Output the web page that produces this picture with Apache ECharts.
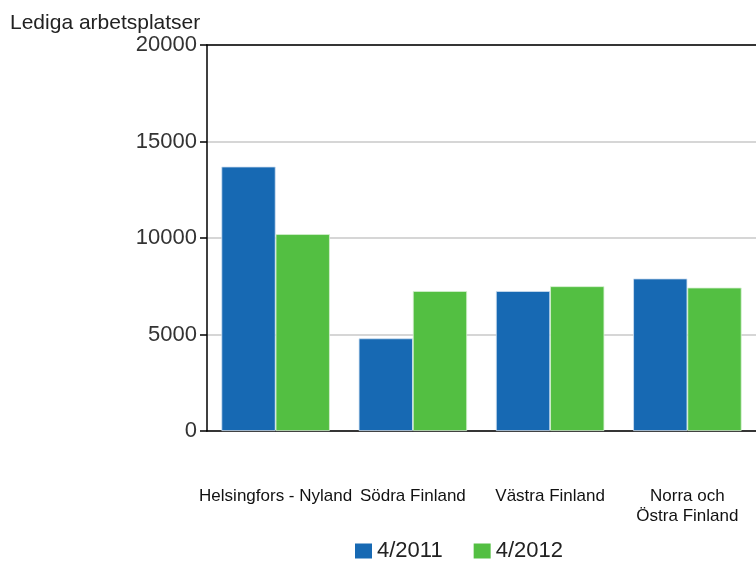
<!DOCTYPE html>
<html><head><meta charset="utf-8">
<script src="https://cdn.jsdelivr.net/npm/echarts@6/dist/echarts.min.js"></script>
<style>html,body{margin:0;padding:0;background:#fff}#c{width:756px;height:561px}</style>
</head><body><div id="c"></div>
<script>
const categories = ['Helsingfors - Nyland', 'Södra Finland', 'Västra Finland', 'Norra och\nÖstra Finland'];
const series2011 = [13700, 4800, 7250, 7900];
const series2012 = [10200, 7250, 7500, 7430];
const seriesNames = ['4/2011', '4/2012'];
const yTitle = 'Lediga arbetsplatser';

const FONT = '"Liberation Sans", Arial, sans-serif';
const chart = echarts.init(document.getElementById('c'));
chart.setOption({
  animation: false,
  textStyle: { fontFamily: FONT },
  title: { text: yTitle, left: 5, top: 8, textStyle: { fontFamily: FONT, fontSize: 21, fontWeight: 'normal', color: '#222' } },
  legend: {
    data: seriesNames, top: 535, left: 350, icon: 'rect', itemWidth: 17, itemHeight: 15, itemGap: 31,
    itemStyle: { borderWidth: 0 },
    textStyle: { fontFamily: FONT, fontSize: 22, color: '#222' }
  },
  grid: { left: 207, right: 0, top: 45, bottom: 130, containLabel: false },
  xAxis: [{
    type: 'category', data: categories, position: 'bottom',
    axisLine: { lineStyle: { color: '#000', width: 1.5 } },
    axisTick: { show: false },
    axisLabel: { interval: 0, margin: 55, fontFamily: FONT, fontSize: 17, color: '#111', lineHeight: 20 }
  }, {
    type: 'category', data: categories, position: 'top',
    axisLine: { show: true, lineStyle: { color: '#000', width: 1.5 } },
    axisTick: { show: false }, axisLabel: { show: false }
  }],
  yAxis: {
    type: 'value', min: 0, max: 20000, interval: 5000,
    axisLine: { show: true, lineStyle: { color: '#000', width: 1.5 } },
    axisTick: { show: true, length: 7, lineStyle: { color: '#000', width: 1.5 } },
    axisLabel: { margin: 10, fontFamily: FONT, fontSize: 22, color: '#333', formatter: v => String(v) },
    splitLine: { lineStyle: { color: '#c8c8c8', width: 1.5 } }
  },
  series: [
    { name: seriesNames[0], type: 'bar', data: series2011, barGap: '0%', barCategoryGap: '21%',
      itemStyle: { color: '#1769b3', borderColor: '#cfe0f0', borderWidth: 0.8 } },
    { name: seriesNames[1], type: 'bar', data: series2012,
      itemStyle: { color: '#53bf42', borderColor: '#d6f0d0', borderWidth: 0.8 } }
  ]
});
</script></body></html>
